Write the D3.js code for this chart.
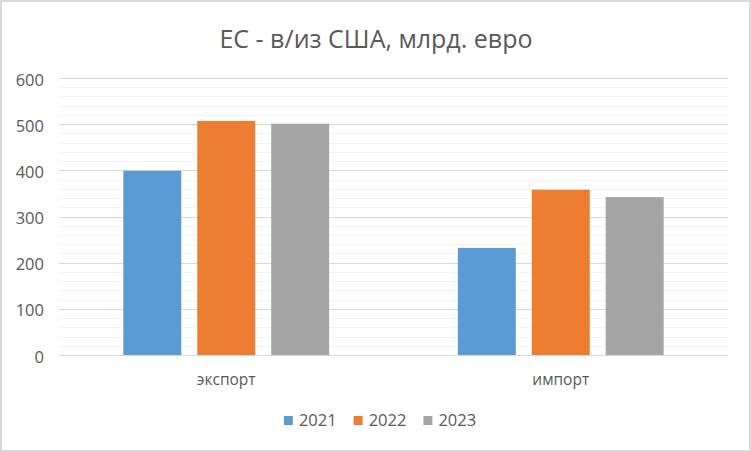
<!DOCTYPE html>
<html>
<head>
<meta charset="utf-8">
<script src="https://cdn.jsdelivr.net/npm/d3@7"></script>
<style>
  html, body { margin: 0; padding: 0; background: #fff; }
  svg { display: block; }
  text { font-family: "Open Sans", "Liberation Sans", sans-serif; fill: #595959; }
</style>
</head>
<body>
<svg id="chart" width="751" height="452"></svg>
<script>
// ---- data ----
const title = "ЕС - в/из США, млрд. евро";
const categories = ["экспорт", "импорт"];
const years = ["2021", "2022", "2023"];
const values2021 = [399, 232];
const values2022 = [507, 358];
const values2023 = [501, 342];
const yTicks = [0, 100, 200, 300, 400, 500, 600];
const colors = ["#5B9BD5", "#ED7D31", "#A5A5A5"];

const seriesValues = [values2021, values2022, values2023];
const rows = categories.map((c, i) => ({
  category: c,
  bars: years.map((y, j) => ({ year: y, value: seriesValues[j][i], color: colors[j] }))
}));

// ---- layout ----
const W = 751, H = 452;
const plot = { left: 59, right: 728, top: 78, bottom: 355 };
const svg = d3.select("#chart");

svg.append("rect")
  .attr("x", 1).attr("y", 1).attr("width", W - 2).attr("height", H - 2)
  .attr("fill", "#fff").attr("stroke", "#D9D9D9").attr("stroke-width", 2);

const y = d3.scaleLinear().domain([0, 600]).range([plot.bottom, plot.top]);
const x0 = d3.scaleBand().domain(categories).range([plot.left, plot.right]).paddingInner(0).paddingOuter(0);
const x1 = d3.scaleBand().domain(years).range([0, x0.bandwidth()]).paddingInner(0.216).paddingOuter(0.87);

// minor gridlines
const minor = d3.range(20, 600, 20).filter(v => v % 100 !== 0);
svg.append("g").selectAll("line").data(minor).join("line")
  .attr("x1", plot.left).attr("x2", plot.right)
  .attr("y1", d => Math.round(y(d)) + 0.5).attr("y2", d => Math.round(y(d)) + 0.5)
  .attr("stroke", "#F2F2F2").attr("stroke-width", 1);

// major gridlines
svg.append("g").selectAll("line").data(yTicks).join("line")
  .attr("x1", plot.left).attr("x2", plot.right)
  .attr("y1", d => Math.round(y(d)) + 0.5).attr("y2", d => Math.round(y(d)) + 0.5)
  .attr("stroke", "#D9D9D9").attr("stroke-width", 1);

// y axis labels
const yAxis = d3.axisLeft(y).tickValues(yTicks).tickSize(0).tickPadding(0).tickFormat(d3.format("d"));
const gy = svg.append("g").attr("transform", `translate(${44},0)`).call(yAxis);
gy.select(".domain").remove();
gy.selectAll("text")
  .attr("font-family", "Open Sans, Liberation Sans, sans-serif")
  .attr("font-size", 16.5).attr("fill", "#595959").attr("dy", "0.43em");

// bars
const groups = svg.append("g").selectAll("g").data(rows).join("g")
  .attr("transform", d => `translate(${x0(d.category)},0)`);
groups.selectAll("rect").data(d => d.bars).join("rect")
  .attr("x", d => x1(d.year))
  .attr("width", x1.bandwidth())
  .attr("y", d => y(d.value))
  .attr("height", d => y(0) - y(d.value))
  .attr("fill", d => d.color);

// category axis labels
const xAxis = d3.axisBottom(x0).tickSize(0).tickPadding(0);
const gx = svg.append("g").attr("transform", `translate(0,${plot.bottom})`).call(xAxis);
gx.select(".domain").remove();
gx.selectAll("text")
  .attr("font-family", "Open Sans, Liberation Sans, sans-serif")
  .attr("font-size", 15.5).attr("fill", "#595959")
  .attr("y", 30).attr("dy", 0);

// title
svg.append("text")
  .attr("x", 376).attr("y", 48)
  .attr("text-anchor", "middle")
  .attr("font-size", 25)
  .text(title);

// legend
const legend = svg.append("g");
const items = legend.selectAll("g").data(years).join("g");
items.append("rect").attr("width", 9).attr("height", 9).attr("y", -10)
  .attr("fill", (d, i) => colors[i]);
items.append("text").attr("x", 15).attr("y", 0).attr("font-size", 16.5).text(d => d);
let xpos = 0;
const gap = 17;
items.each(function () {
  const g = d3.select(this);
  const w = 15 + g.select("text").node().getComputedTextLength();
  g.attr("transform", `translate(${xpos},0)`);
  xpos += w + gap;
});
const totalW = xpos - gap;
legend.attr("transform", `translate(${380 - totalW / 2},${426})`);
</script>
</body>
</html>
